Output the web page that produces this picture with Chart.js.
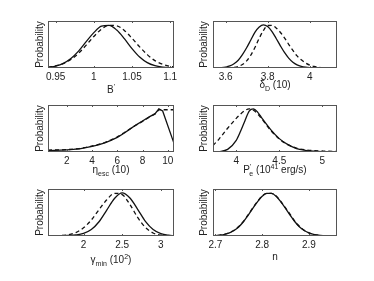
<!DOCTYPE html>
<html>
<head>
<meta charset="utf-8">
<script src="https://cdn.jsdelivr.net/npm/chart.js@4/dist/chart.umd.min.js"></script>
<style>
  html, body { margin: 0; padding: 0; background: #fff; }
  #wrap { position: relative; width: 374px; height: 281px; overflow: hidden; background: #fff; }
  canvas { position: absolute; }
  .xt { position: absolute; font-family: "Liberation Sans", Arial, sans-serif; font-size: 10px; line-height: 12px; color: #222; white-space: nowrap; transform: translateX(-50%); }
  .xt sub, .xt sup { font-size: 7px; position: relative; vertical-align: baseline; }
  .xt sub { top: 3px; }
  .xt sup { top: -4px; }
</style>
</head>
<body>
<div id="wrap">
  <canvas id="c1" width="187" height="93" style="left:0;top:0"></canvas>
  <canvas id="c2" width="187" height="93" style="left:187px;top:0"></canvas>
  <canvas id="c3" width="187" height="93" style="left:0;top:93px"></canvas>
  <canvas id="c4" width="187" height="93" style="left:187px;top:93px"></canvas>
  <canvas id="c5" width="187" height="95" style="left:0;top:186px"></canvas>
  <canvas id="c6" width="187" height="95" style="left:187px;top:186px"></canvas>
  <div class="xt" style="left:111px;top:84px">B<sup>'</sup></div>
  <div class="xt" style="left:275px;top:79px">δ<sub>D</sub> (10)</div>
  <div class="xt" style="left:111px;top:164px">η<sub>esc</sub> (10)</div>
  <div class="xt" style="left:275px;top:164px">P<sup>'</sup><sub style="margin-left:-2px">e</sub> (10<sup>41</sup> erg/s)</div>
  <div class="xt" style="left:111px;top:254px">γ<sub>min</sub> (10<sup>2</sup>)</div>
  <div class="xt" style="left:275px;top:251px">n</div>
</div>
<script>
// ---- Panel 1: B'
const p1X = [0.94,0.95,0.96,0.97,0.98,0.99,1.00,1.01,1.02,1.03,1.04,1.05,1.06,1.07,1.08,1.09,1.10,1.105];
const p1Solid = [0.017,0.046,0.108,0.22,0.39,0.61,0.82,0.97,0.99,0.88,0.68,0.45,0.255,0.125,0.053,0.019,0.006,0.004];
const p1Dashed = [0.02,0.047,0.10,0.20,0.34,0.53,0.73,0.90,0.99,0.98,0.87,0.69,0.49,0.31,0.17,0.089,0.04,0.027];
const p1Ticks = [0.95, 1, 1.05, 1.1];
const p1TickLabels = ["0.95", "1", "1.05", "1.1"];

// ---- Panel 2: delta_D (10)
const p2X = [3.54,3.56,3.58,3.60,3.62,3.64,3.66,3.68,3.70,3.72,3.74,3.76,3.78,3.80,3.82,3.84,3.86,3.88,3.90,3.92,3.94,3.96,3.98,4.00,4.02,4.04,4.06,4.08,4.10,4.12,4.13];
const p2Solid = [0.001,0.003,0.009,0.022,0.048,0.099,0.18,0.31,0.47,0.65,0.83,0.95,1,0.96,0.85,0.69,0.52,0.36,0.23,0.135,0.073,0.037,0.017,0.007,0.003,0.001,0.001,0,0,0,0];
const p2Dashed = [0,0,0,0.001,0.005,0.014,0.035,0.081,0.165,0.30,0.48,0.69,0.87,0.985,0.99,0.93,0.83,0.70,0.55,0.41,0.28,0.19,0.117,0.068,0.038,0.020,0.0096,0.0044,0.002,0.001,0.001];
const p2Ticks = [3.6, 3.8, 4];
const p2TickLabels = ["3.6", "3.8", "4"];

// ---- Panel 3: eta_esc (10)
const p3X = [0.5,1,1.5,2,2.5,3,3.5,4,4.5,5,5.5,6,6.5,7,7.5,8,8.5,9,9.3,9.6,10.5];
const p3Solid = [0.03,0.037,0.043,0.05,0.06,0.075,0.1,0.13,0.165,0.21,0.27,0.34,0.43,0.53,0.63,0.72,0.81,0.89,1.0,0.95,0.2];
const p3Dashed = [0.045,0.047,0.05,0.055,0.065,0.08,0.105,0.14,0.175,0.22,0.28,0.35,0.44,0.535,0.625,0.71,0.8,0.88,0.98,0.98,0.98];
const p3Ticks = [2, 4, 6, 8, 10];
const p3TickLabels = ["2", "4", "6", "8", "10"];

// ---- Panel 4: P'_e (10^41 erg/s)
const p4X = [3.73,3.8,3.9,4.0,4.05,4.1,4.15,4.2,4.25,4.3,4.4,4.5,4.6,4.7,4.8,4.9,5.0,5.17];
const p4Solid = [0.0,0.01,0.06,0.27,0.48,0.72,0.95,1.0,0.92,0.78,0.52,0.31,0.17,0.08,0.04,0.02,0.01,0.005];
const p4Dashed = [0.15,0.30,0.55,0.78,0.88,0.96,1.0,0.97,0.88,0.76,0.50,0.30,0.17,0.09,0.05,0.03,0.02,0.015];
const p4Ticks = [4, 4.5, 5];
const p4TickLabels = ["4", "4.5", "5"];

// ---- Panel 5: gamma_min (10^2)
const p5X = [1.54,1.6,1.7,1.8,1.9,2.0,2.1,2.2,2.3,2.4,2.5,2.6,2.7,2.8,2.9,3.0,3.1,3.17];
const p5Solid = [0.002,0.003,0.006,0.012,0.025,0.06,0.15,0.33,0.6,0.87,1,0.88,0.62,0.34,0.15,0.055,0.017,0.006];
const p5Dashed = [0.002,0.004,0.01,0.03,0.08,0.19,0.37,0.61,0.84,0.99,0.96,0.73,0.43,0.20,0.07,0.02,0.005,0.002];
const p5Ticks = [2, 2.5, 3];
const p5TickLabels = ["2", "2.5", "3"];

// ---- Panel 6: n
const p6X = [2.69,2.70,2.71,2.72,2.73,2.74,2.75,2.76,2.77,2.78,2.79,2.80,2.81,2.82,2.83,2.84,2.85,2.86,2.87,2.88,2.89,2.90,2.91,2.92,2.93,2.94,2.95,2.96];
const p6Solid = [0.003,0.008,0.018,0.037,0.071,0.127,0.21,0.33,0.48,0.64,0.79,0.92,0.99,0.99,0.92,0.79,0.64,0.48,0.33,0.21,0.127,0.071,0.037,0.018,0.008,0.003,0.001,0];
const p6Dashed = [0.004,0.01,0.022,0.042,0.08,0.135,0.22,0.34,0.49,0.65,0.80,0.93,0.99,0.99,0.93,0.80,0.65,0.50,0.34,0.22,0.13,0.072,0.036,0.017,0.007,0.003,0.001,0];
const p6Ticks = [2.7, 2.8, 2.9];
const p6TickLabels = ["2.7", "2.8", "2.9"];

const yLabel = "Probability";
const FONT = '"Liberation Sans", Arial, sans-serif';

const boxPlugin = {
  id: 'matlabBox',
  afterDatasetsDraw(chart, args, opts) {
    const {ctx, chartArea: a} = chart;
    const xs = chart.scales.x;
    ctx.save();
    ctx.strokeStyle = '#555';
    ctx.lineWidth = 1;
    ctx.beginPath();
    (opts.ticks || []).forEach(v => {
      const px = Math.round(xs.getPixelForValue(v)) + 0.5;
      ctx.moveTo(px, a.bottom); ctx.lineTo(px, a.bottom - 2);
      ctx.moveTo(px, a.top); ctx.lineTo(px, a.top + 2);
    });
    ctx.stroke();
    ctx.strokeRect(Math.round(a.left) + 0.5, Math.round(a.top) + 0.5, Math.round(a.right - a.left) - 1, Math.round(a.bottom - a.top) - 1);
    ctx.restore();
  }
};

function makePanel(id, xs, solid, dashed, xmin, xmax, ticks, tickLabels, pad, yW, smooth) {
  const toPts = arr => xs.map((x, i) => ({x: x, y: arr[i]}));
  const lineOpts = smooth ? {cubicInterpolationMode: 'monotone'} : {tension: 0};
  new Chart(document.getElementById(id), {
    type: 'line',
    data: {
      datasets: [
        Object.assign({data: toPts(solid), borderColor: '#111', borderWidth: 1.3, pointRadius: 0, fill: false}, lineOpts),
        Object.assign({data: toPts(dashed), borderColor: '#111', borderWidth: 1.3, borderDash: [4, 3], pointRadius: 0, fill: false}, lineOpts)
      ]
    },
    options: {
      responsive: false,
      devicePixelRatio: 1,
      animation: false,
      events: [],
      layout: {padding: pad},
      plugins: {legend: {display: false}, tooltip: {enabled: false}, matlabBox: {ticks: ticks}},
      scales: {
        x: {
          type: 'linear', min: xmin, max: xmax,
          grid: {display: false, drawTicks: false},
          border: {display: false},
          afterBuildTicks: s => { s.ticks = ticks.map(v => ({value: v})); },
          afterFit: s => { s.height = 20; },
          ticks: {
            padding: 3, maxRotation: 0, autoSkip: false, color: '#222',
            font: {family: FONT, size: 10},
            callback: (v, i) => tickLabels[i]
          }
        },
        y: {
          type: 'linear', min: 0, max: 1.09,
          grid: {display: false, drawTicks: false},
          border: {display: false},
          ticks: {display: false},
          afterFit: s => { s.width = yW; },
          title: {display: true, text: yLabel, padding: 0, color: '#222', font: {family: FONT, size: 10}}
        }
      }
    },
    plugins: [boxPlugin]
  });
}

const colPad1 = {left: 34, right: 13}, colPad2 = {left: 11, right: 37};
makePanel('c1', p1X, p1Solid, p1Dashed, 0.94, 1.105, p1Ticks, p1TickLabels, Object.assign({top: 21, bottom: 5}, colPad1), 14, true);
makePanel('c2', p2X, p2Solid, p2Dashed, 3.54, 4.13, p2Ticks, p2TickLabels, Object.assign({top: 21, bottom: 5}, colPad2), 15, true);
makePanel('c3', p3X, p3Solid, p3Dashed, 0.5, 10.5, p3Ticks, p3TickLabels, Object.assign({top: 12, bottom: 14}, colPad1), 14, false);
makePanel('c4', p4X, p4Solid, p4Dashed, 3.73, 5.17, p4Ticks, p4TickLabels, Object.assign({top: 12, bottom: 14}, colPad2), 15, true);
makePanel('c5', p5X, p5Solid, p5Dashed, 1.54, 3.17, p5Ticks, p5TickLabels, Object.assign({top: 3, bottom: 25}, colPad1), 14, true);
makePanel('c6', p6X, p6Solid, p6Dashed, 2.695, 2.96, p6Ticks, p6TickLabels, Object.assign({top: 3, bottom: 25}, colPad2), 15, true);
</script>
</body>
</html>
